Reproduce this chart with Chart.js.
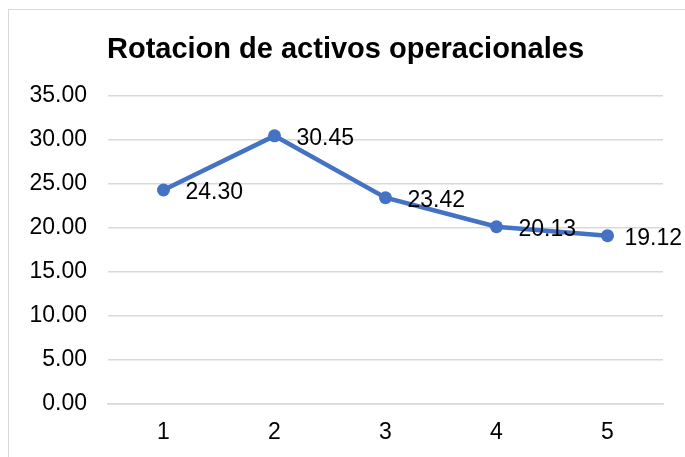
<!DOCTYPE html>
<html>
<head>
<meta charset="utf-8">
<script src="https://cdn.jsdelivr.net/npm/chart.js@4/dist/chart.umd.min.js"></script>
<style>
  html, body { margin: 0; padding: 0; background: #fff; overflow: hidden; }
  #wrap { position: relative; width: 685px; height: 457px; }
  #frame { position: absolute; left: 8px; top: 9px; width: 700px; height: 470px; border: 1px solid #d9d9d9; }
  canvas { position: absolute; left: 0; top: 0; }
</style>
</head>
<body>
<div id="wrap">
  <div id="frame"></div>
  <canvas id="rotacionCanvas" width="685" height="457"></canvas>
</div>
<script>
const chartTitle = 'Rotacion de activos operacionales';
const periods = ['1', '2', '3', '4', '5'];
const rotacion = [24.30, 30.45, 23.42, 20.13, 19.12];
const yTicks = [0, 5, 10, 15, 20, 25, 30, 35];

const fontFamily = '"Liberation Sans", Arial, sans-serif';
const lineBlue = '#4472C4';

// value labels to the right of each point, like Excel
// (pulled back to the left when they would run off the chart)
const valueLabels = {
    id: 'valueLabels',
    afterDatasetsDraw(chart) {
        const ctx = chart.ctx;
        const meta = chart.getDatasetMeta(0);
        ctx.save();
        ctx.font = '23px ' + fontFamily;
        ctx.fillStyle = '#000';
        ctx.textAlign = 'left';
        ctx.textBaseline = 'middle';
        meta.data.forEach((pt, i) => {
            const txt = rotacion[i].toFixed(2);
            const w = ctx.measureText(txt).width;
            const x = Math.min(pt.x + 22, chart.width - 3 - w);
            ctx.fillText(txt, x, pt.y + 3);
        });
        ctx.restore();
    }
};

const ctx = document.getElementById('rotacionCanvas').getContext('2d');
new Chart(ctx, {
    type: 'line',
    data: {
        labels: periods,
        datasets: [{
            data: rotacion,
            borderColor: lineBlue,
            backgroundColor: lineBlue,
            borderWidth: 4.5,
            pointRadius: 6.5,
            pointBorderWidth: 0,
            tension: 0,
            fill: false
        }]
    },
    options: {
        responsive: false,
        animation: false,
        devicePixelRatio: 1,
        layout: { padding: { left: 28, right: 22, top: 0, bottom: 0 } },
        scales: {
            x: {
                offset: true,
                grid: { display: false, drawTicks: false },
                border: { display: true, color: '#d9d9d9', width: 1.5 },
                ticks: { color: '#000', font: { family: fontFamily, size: 23 }, padding: 15 },
                afterFit(scale) { scale.height = 53; }
            },
            y: {
                min: 0,
                max: 35,
                afterBuildTicks(scale) { scale.ticks = yTicks.map(v => ({ value: v })); },
                grid: { color: '#d9d9d9', lineWidth: 1.5, drawTicks: false },
                border: { display: false },
                ticks: {
                    color: '#000',
                    font: { family: fontFamily, size: 23 },
                    padding: 21,
                    callback: v => Number(v).toFixed(2)
                },
                afterFit(scale) { scale.width = 80; }
            }
        },
        plugins: {
            legend: { display: false },
            tooltip: { enabled: false },
            title: {
                display: true,
                text: chartTitle,
                color: '#000',
                font: { family: fontFamily, size: 29, weight: 'bold' },
                padding: { top: 33, bottom: 28 }
            }
        }
    },
    plugins: [valueLabels]
});
</script>
</body>
</html>
